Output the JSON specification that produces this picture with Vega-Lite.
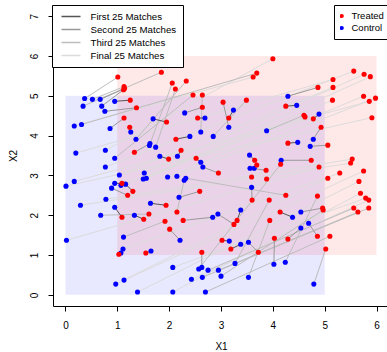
{
  "$schema": "https://vega.github.io/schema/vega-lite/v6.json",
  "width": 336,
  "height": 301,
  "autosize": {"type": "none"},
  "padding": {"left": 53, "top": 5, "right": 0, "bottom": 46},
  "background": "white",
  "config": {
    "view": {"stroke": null},
    "font": "Liberation Sans",
    "axis": {"grid": false, "domainColor": "black", "tickColor": "black", "labelColor": "black", "titleColor": "black", "labelFont": "Liberation Sans", "titleFont": "Liberation Sans", "labelFontSize": 10, "titleFontSize": 10, "titleFontWeight": "normal", "tickSize": 5, "labelFlush": false, "labelOverlap": false}
  },
  "datasets": {
    "pairs": [
      {"tx":4.00,"ty":5.93,"cx":0.77,"cy":3.63,"g":"Final 25 Matches"},
      {"tx":3.62,"ty":5.47,"cx":0.17,"cy":4.24,"g":"Final 25 Matches"},
      {"tx":5.16,"ty":5.41,"cx":0.20,"cy":3.56,"g":"Final 25 Matches"},
      {"tx":5.56,"ty":5.62,"cx":0.77,"cy":3.21,"g":"Final 25 Matches"},
      {"tx":5.16,"ty":5.21,"cx":1.04,"cy":3.01,"g":"Final 25 Matches"},
      {"tx":5.76,"ty":5.54,"cx":1.52,"cy":3.06,"g":"Final 25 Matches"},
      {"tx":5.88,"ty":5.48,"cx":1.50,"cy":2.91,"g":"Final 25 Matches"},
      {"tx":5.15,"ty":4.89,"cx":1.56,"cy":2.93,"g":"Final 25 Matches"},
      {"tx":5.75,"ty":4.99,"cx":1.97,"cy":2.96,"g":"Final 25 Matches"},
      {"tx":5.98,"ty":4.94,"cx":2.15,"cy":2.98,"g":"Final 25 Matches"},
      {"tx":5.86,"ty":4.86,"cx":0.17,"cy":2.85,"g":"Final 25 Matches"},
      {"tx":5.91,"ty":4.45,"cx":0.01,"cy":2.73,"g":"Final 25 Matches"},
      {"tx":4.62,"ty":4.47,"cx":1.07,"cy":2.75,"g":"Final 25 Matches"},
      {"tx":5.53,"ty":3.41,"cx":0.78,"cy":2.40,"g":"Final 25 Matches"},
      {"tx":5.50,"ty":3.31,"cx":0.29,"cy":2.25,"g":"Final 25 Matches"},
      {"tx":4.89,"ty":3.21,"cx":0.02,"cy":1.37,"g":"Final 25 Matches"},
      {"tx":5.29,"ty":3.06,"cx":1.11,"cy":1.15,"g":"Final 25 Matches"},
      {"tx":5.06,"ty":2.93,"cx":0.97,"cy":0.27,"g":"Final 25 Matches"},
      {"tx":5.75,"ty":3.11,"cx":1.13,"cy":0.37,"g":"Final 25 Matches"},
      {"tx":5.66,"ty":2.85,"cx":1.39,"cy":0.07,"g":"Final 25 Matches"},
      {"tx":5.69,"ty":2.55,"cx":2.07,"cy":0.07,"g":"Final 25 Matches"},
      {"tx":5.79,"ty":2.43,"cx":2.07,"cy":0.69,"g":"Final 25 Matches"},
      {"tx":5.85,"ty":2.38,"cx":2.43,"cy":0.39,"g":"Final 25 Matches"},
      {"tx":1.13,"ty":5.23,"cx":0.52,"cy":4.91,"g":"Third 25 Matches"},
      {"tx":2.15,"ty":2.08,"cx":2.29,"cy":2.88,"g":"Third 25 Matches"},
      {"tx":4.60,"ty":4.51,"cx":3.88,"cy":4.12,"g":"Third 25 Matches"},
      {"tx":1.01,"ty":5.47,"cx":0.37,"cy":4.93,"g":"Third 25 Matches"},
      {"tx":1.92,"ty":1.85,"cx":1.12,"cy":1.45,"g":"Third 25 Matches"},
      {"tx":5.02,"ty":1.15,"cx":4.79,"cy":0.27,"g":"Third 25 Matches"},
      {"tx":2.64,"ty":5.02,"cx":2.61,"cy":4.09,"g":"Third 25 Matches"},
      {"tx":1.61,"ty":2.03,"cx":0.68,"cy":2.00,"g":"Third 25 Matches"},
      {"tx":3.49,"ty":4.89,"cx":2.85,"cy":3.98,"g":"Third 25 Matches"},
      {"tx":3.94,"ty":1.87,"cx":3.53,"cy":0.44,"g":"Third 25 Matches"},
      {"tx":2.12,"ty":5.17,"cx":1.74,"cy":3.71,"g":"Third 25 Matches"},
      {"tx":2.06,"ty":5.32,"cx":1.62,"cy":3.75,"g":"Third 25 Matches"},
      {"tx":3.93,"ty":2.38,"cx":3.27,"cy":0.79,"g":"Third 25 Matches"},
      {"tx":1.85,"ty":5.59,"cx":0.34,"cy":4.74,"g":"Third 25 Matches"},
      {"tx":2.33,"ty":5.37,"cx":1.36,"cy":3.91,"g":"Third 25 Matches"},
      {"tx":4.86,"ty":2.48,"cx":4.24,"cy":0.82,"g":"Third 25 Matches"},
      {"tx":4.25,"ty":2.50,"cx":2.32,"cy":2.93,"g":"Third 25 Matches"},
      {"tx":2.46,"ty":5.02,"cx":0.95,"cy":3.43,"g":"Third 25 Matches"},
      {"tx":4.97,"ty":2.13,"cx":3.00,"cy":0.47,"g":"Third 25 Matches"},
      {"tx":5.10,"ty":1.47,"cx":2.70,"cy":0.07,"g":"Third 25 Matches"},
      {"tx":5.64,"ty":2.08,"cx":2.95,"cy":0.62,"g":"Third 25 Matches"},
      {"tx":4.15,"ty":3.28,"cx":2.57,"cy":0.65,"g":"Third 25 Matches"},
      {"tx":5.56,"ty":2.18,"cx":2.75,"cy":0.62,"g":"Third 25 Matches"},
      {"tx":3.69,"ty":5.57,"cx":0.31,"cy":4.28,"g":"Third 25 Matches"},
      {"tx":5.85,"ty":2.18,"cx":2.64,"cy":0.44,"g":"Third 25 Matches"},
      {"tx":3.72,"ty":1.07,"cx":3.53,"cy":1.32,"g":"Second 25 Matches"},
      {"tx":3.87,"ty":3.13,"cx":3.56,"cy":3.18,"g":"Second 25 Matches"},
      {"tx":3.60,"ty":2.38,"cx":3.59,"cy":2.70,"g":"Second 25 Matches"},
      {"tx":4.93,"ty":4.21,"cx":4.78,"cy":3.91,"g":"Second 25 Matches"},
      {"tx":5.06,"ty":3.76,"cx":4.72,"cy":3.73,"g":"Second 25 Matches"},
      {"tx":2.01,"ty":1.65,"cx":2.21,"cy":1.37,"g":"Second 25 Matches"},
      {"tx":2.95,"ty":3.06,"cx":2.65,"cy":3.21,"g":"Second 25 Matches"},
      {"tx":1.20,"ty":2.50,"cx":0.89,"cy":2.68,"g":"Second 25 Matches"},
      {"tx":1.13,"ty":4.44,"cx":0.86,"cy":4.18,"g":"Second 25 Matches"},
      {"tx":1.33,"ty":3.58,"cx":1.63,"cy":3.80,"g":"Second 25 Matches"},
      {"tx":4.86,"ty":1.47,"cx":4.69,"cy":1.80,"g":"Second 25 Matches"},
      {"tx":2.64,"ty":4.71,"cx":2.30,"cy":4.57,"g":"Second 25 Matches"},
      {"tx":2.63,"ty":1.07,"cx":2.63,"cy":0.69,"g":"Second 25 Matches"},
      {"tx":4.29,"ty":1.40,"cx":4.54,"cy":1.68,"g":"Second 25 Matches"},
      {"tx":3.25,"ty":1.77,"cx":2.94,"cy":2.03,"g":"Second 25 Matches"},
      {"tx":2.59,"ty":2.60,"cx":2.19,"cy":2.45,"g":"Second 25 Matches"},
      {"tx":4.96,"ty":2.18,"cx":4.54,"cy":2.08,"g":"Second 25 Matches"},
      {"tx":1.14,"ty":5.18,"cx":0.67,"cy":4.91,"g":"Second 25 Matches"},
      {"tx":4.74,"ty":3.38,"cx":4.16,"cy":3.38,"g":"Second 25 Matches"},
      {"tx":2.27,"ty":1.87,"cx":2.84,"cy":1.95,"g":"Second 25 Matches"},
      {"tx":1.12,"ty":5.15,"cx":0.70,"cy":4.74,"g":"Second 25 Matches"},
      {"tx":1.37,"ty":4.70,"cx":0.76,"cy":4.61,"g":"Second 25 Matches"},
      {"tx":4.87,"ty":5.21,"cx":4.29,"cy":4.99,"g":"Second 25 Matches"},
      {"tx":3.04,"ty":4.84,"cx":3.15,"cy":4.21,"g":"Second 25 Matches"},
      {"tx":4.03,"ty":1.42,"cx":4.02,"cy":0.77,"g":"Second 25 Matches"},
      {"tx":1.03,"ty":1.02,"cx":1.07,"cy":1.05,"g":"First 25 Matches"},
      {"tx":3.69,"ty":3.26,"cx":3.64,"cy":3.18,"g":"First 25 Matches"},
      {"tx":1.55,"ty":1.05,"cx":1.65,"cy":1.10,"g":"First 25 Matches"},
      {"tx":1.24,"ty":4.21,"cx":1.26,"cy":4.09,"g":"First 25 Matches"},
      {"tx":2.52,"ty":3.43,"cx":2.61,"cy":3.33,"g":"First 25 Matches"},
      {"tx":3.02,"ty":1.37,"cx":3.16,"cy":1.35,"g":"First 25 Matches"},
      {"tx":2.55,"ty":4.44,"cx":2.69,"cy":4.44,"g":"First 25 Matches"},
      {"tx":1.09,"ty":2.80,"cx":0.95,"cy":2.80,"g":"First 25 Matches"},
      {"tx":4.78,"ty":4.42,"cx":4.89,"cy":4.54,"g":"First 25 Matches"},
      {"tx":3.65,"ty":3.38,"cx":3.55,"cy":3.51,"g":"First 25 Matches"},
      {"tx":2.23,"ty":3.63,"cx":2.16,"cy":3.48,"g":"First 25 Matches"},
      {"tx":1.99,"ty":3.41,"cx":1.82,"cy":3.48,"g":"First 25 Matches"},
      {"tx":4.29,"ty":3.81,"cx":4.48,"cy":3.83,"g":"First 25 Matches"},
      {"tx":4.25,"ty":4.74,"cx":4.46,"cy":4.76,"g":"First 25 Matches"},
      {"tx":1.51,"ty":1.90,"cx":1.33,"cy":2.00,"g":"First 25 Matches"},
      {"tx":3.19,"ty":1.15,"cx":3.38,"cy":1.27,"g":"First 25 Matches"},
      {"tx":3.15,"ty":4.44,"cx":3.24,"cy":4.64,"g":"First 25 Matches"},
      {"tx":1.30,"ty":2.60,"cx":1.16,"cy":2.78,"g":"First 25 Matches"},
      {"tx":3.31,"ty":1.87,"cx":3.38,"cy":2.13,"g":"First 25 Matches"},
      {"tx":4.14,"ty":2.08,"cx":4.38,"cy":1.95,"g":"First 25 Matches"},
      {"tx":1.95,"ty":4.34,"cx":1.69,"cy":4.42,"g":"First 25 Matches"},
      {"tx":2.13,"ty":3.91,"cx":2.40,"cy":3.98,"g":"First 25 Matches"},
      {"tx":1.09,"ty":1.95,"cx":0.95,"cy":2.20,"g":"First 25 Matches"},
      {"tx":1.25,"ty":4.89,"cx":0.95,"cy":4.86,"g":"First 25 Matches"},
      {"tx":1.94,"ty":2.25,"cx":1.64,"cy":2.30,"g":"First 25 Matches"}
    ],
    "extra": [
      {"tx":3.59,"ty":2.96},
      {"tx":3.88,"ty":2.91}
    ]
  },
  "layer": [
    {
      "data": {"values": [{"x1":0,"x2":5,"y1":0,"y2":5}]},
      "mark": {"type": "rect", "fill": "blue", "opacity": 0.09},
      "encoding": {
        "x": {"field": "x1", "type": "quantitative", "scale": {"domain": [-0.24, 6.24], "nice": false, "zero": false}, "axis": {"title": "X1", "values": [0,1,2,3,4,5,6], "labelPadding": 9, "titlePadding": 11}},
        "x2": {"field": "x2"},
        "y": {"field": "y1", "type": "quantitative", "scale": {"domain": [-0.28, 7.28], "nice": false, "zero": false}, "axis": {"title": "X2", "values": [0,1,2,3,4,5,6,7], "labelAngle": 270, "labelPadding": 9, "titlePadding": 11}},
        "y2": {"field": "y2"}
      }
    },
    {
      "data": {"values": [{"x1":1,"x2":6,"y1":1,"y2":6}]},
      "mark": {"type": "rect", "fill": "red", "opacity": 0.09},
      "encoding": {
        "x": {"field": "x1", "type": "quantitative"},
        "x2": {"field": "x2"},
        "y": {"field": "y1", "type": "quantitative"},
        "y2": {"field": "y2"}
      }
    },
    {
      "data": {"name": "pairs"},
      "mark": {"type": "rule", "strokeWidth": 1},
      "encoding": {
        "x": {"field": "tx", "type": "quantitative"},
        "y": {"field": "ty", "type": "quantitative"},
        "x2": {"field": "cx"},
        "y2": {"field": "cy"},
        "stroke": {
          "field": "g", "type": "nominal",
          "scale": {"domain": ["First 25 Matches", "Second 25 Matches", "Third 25 Matches", "Final 25 Matches"], "range": ["#555555", "#999999", "#bdbdbd", "#dcdcdc"]},
          "legend": {"orient": "none", "legendX": -1, "legendY": 0, "title": null, "symbolType": "stroke", "symbolSize": 361, "symbolStrokeWidth": 1.5, "clipHeight": 10, "labelFont": "Liberation Sans", "labelFontSize": 9.7, "labelColor": "black", "labelOffset": 9, "rowPadding": 3, "padding": 6.5, "symbolOffset": 2, "strokeColor": "black", "fillColor": "white", "cornerRadius": 0}
        }
      }
    },
    {
      "data": {"name": "pairs"},
      "mark": {"type": "point", "filled": true, "shape": "circle", "size": 26, "opacity": 1, "strokeWidth": 0},
      "encoding": {
        "x": {"field": "cx", "type": "quantitative"},
        "y": {"field": "cy", "type": "quantitative"},
        "fill": {
          "datum": "Control", "type": "nominal",
          "scale": {"domain": ["Treated", "Control"], "range": ["red", "blue"]},
          "legend": {"orient": "none", "legendX": 281, "legendY": 0, "title": null, "symbolType": "circle", "symbolSize": 18, "symbolStrokeWidth": 0, "clipHeight": 10, "labelFont": "Liberation Sans", "labelFontSize": 9.5, "labelColor": "black", "labelOffset": 5, "rowPadding": 2, "padding": 6, "symbolOffset": -3, "strokeColor": "black", "fillColor": "white", "cornerRadius": 0}
        }
      }
    },
    {
      "data": {"name": "pairs"},
      "mark": {"type": "point", "filled": true, "shape": "circle", "size": 26, "opacity": 1, "strokeWidth": 0},
      "encoding": {
        "x": {"field": "tx", "type": "quantitative"},
        "y": {"field": "ty", "type": "quantitative"},
        "fill": {"datum": "Treated", "type": "nominal"}
      }
    },
    {
      "data": {"name": "extra"},
      "mark": {"type": "point", "filled": true, "shape": "circle", "size": 26, "opacity": 1, "strokeWidth": 0},
      "encoding": {
        "x": {"field": "tx", "type": "quantitative"},
        "y": {"field": "ty", "type": "quantitative"},
        "fill": {"datum": "Treated", "type": "nominal"}
      }
    }
  ]
}
